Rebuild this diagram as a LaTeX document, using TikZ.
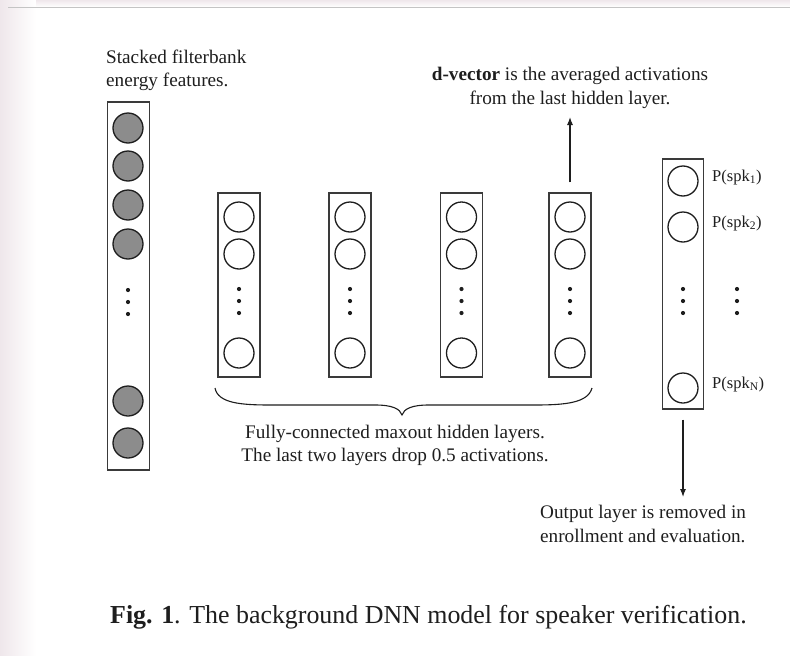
\documentclass[tikz,border=0pt]{standalone}
\usepackage{fontspec}
\setmainfont{Liberation Serif}
\usetikzlibrary{arrows.meta}
\definecolor{ink}{HTML}{1E1E1E}
\definecolor{boxc}{HTML}{3A3A3A}
\definecolor{unitfill}{HTML}{8C8C8C}
\definecolor{topline}{HTML}{C4C4C4}
\definecolor{paper}{HTML}{EFE7EB}
\newcommand\bodyfont{\fontsize{19.2}{23}\selectfont}
\newcommand\labfont{\fontsize{16.5}{20}\selectfont}
\newcommand\capfont{\fontsize{25.9}{31}\selectfont}
\begin{document}
\begin{tikzpicture}[x=1pt,y=-1pt,
  layerbox/.style={draw=boxc, line width=1.2pt, inner sep=0pt, minimum width=42pt},
  unit/.style={circle, draw=ink, line width=1.3pt, minimum size=30pt, inner sep=0pt},
  inunit/.style={unit, fill=unitfill},
  txt/.style={text=ink, inner sep=0pt, font=\bodyfont},
  lab/.style={text=ink, inner sep=0pt, font=\labfont, anchor=mid west},
  dotc/.style={fill=ink},
  arr/.style={-{Latex[length=8pt,width=6pt]}, draw=ink, line width=1.1pt}
]
\useasboundingbox (0,0) rectangle (790,656);
\fill[white] (0,0) rectangle (790,656);
\shade[left color=paper, right color=white] (0,0) rectangle (36,656);
\shade[top color=paper, bottom color=white] (36,0) rectangle (790,7);
\draw[topline, line width=1pt] (8,7) -- (790,7);

% input layer
\node[layerbox, minimum height=368pt] (in) at (128.5,286) {};
\foreach \y [count=\i] in {128,166,205,244,401,443}
  \node[inunit] (in\i) at (128,\y) {};
\foreach \y in {290,302,314} \fill[dotc] (128,\y) circle[radius=2.1pt];

% hidden layers
\foreach \x [count=\k] in {239,350,461.5,570}{
  \node[layerbox, minimum height=184pt] (h\k) at (\x,285) {};
  \node[unit] (h\k a) at (\x,217) {};
  \node[unit] (h\k b) at (\x,254) {};
  \node[unit] (h\k c) at (\x,353) {};
  \foreach \y in {289,301,313} \fill[dotc] (\x,\y) circle[radius=2.1pt];
}

% output layer
\node[layerbox, minimum width=41pt, minimum height=250pt] (out) at (683,284) {};
\node[unit] (o1) at (683,181) {};
\node[unit] (o2) at (683,227) {};
\node[unit] (oN) at (683,388) {};
\foreach \y in {289,301,313} {\fill[dotc] (683,\y) circle[radius=2.1pt];
  \fill[dotc] (737,\y) circle[radius=2.1pt];}
\node[lab] (p1) at (712,179) {P(spk\textsubscript{1})};
\node[lab] (p2) at (712,225) {P(spk\textsubscript{2})};
\node[lab] (pN) at (712,386) {P(spk\textsubscript{N})};

% texts
\node[txt, anchor=mid west] (t1) at (106,61) {Stacked filterbank};
\node[txt, anchor=mid west] (t2) at (106,84) {energy features.};
\node[txt, anchor=mid] (d1) at (570,78) {\textbf{d-vector} is the averaged activations};
\node[txt, anchor=mid] (d2) at (570,102) {from the last hidden layer.};
\node[txt, anchor=mid] (f1) at (395,436) {Fully-connected maxout hidden layers.};
\node[txt, anchor=mid] (f2) at (395,459) {The last two layers drop 0.5 activations.};
\node[txt, anchor=mid west] (o1t) at (540,516) {Output layer is removed in};
\node[txt, anchor=mid west] (o2t) at (540,540) {enrollment and evaluation.};
\node[text=ink, inner sep=0pt, font=\capfont, anchor=mid west] (cap) at (110,621)
  {\textbf{Fig. 1}. The background DNN model for speaker verification.};

% arrows
\coordinate (dtip) at (570,117);
\coordinate (otip) at (683,497);
\draw[arr, shorten <=10pt] (h4.north) -- (dtip);
\draw[arr, shorten <=10pt] (out.south) -- (otip);

% brace
\draw[ink, line width=1.1pt]
  (215,388) .. controls (218,403) and (240,405) .. (270,405) -- (375,405)
  .. controls (393,405) and (400,409) .. (402,415)
  .. controls (404,409) and (411,405) .. (429,405) -- (535,405)
  .. controls (565,405) and (588,403) .. (592,388);
\end{tikzpicture}
\end{document}
